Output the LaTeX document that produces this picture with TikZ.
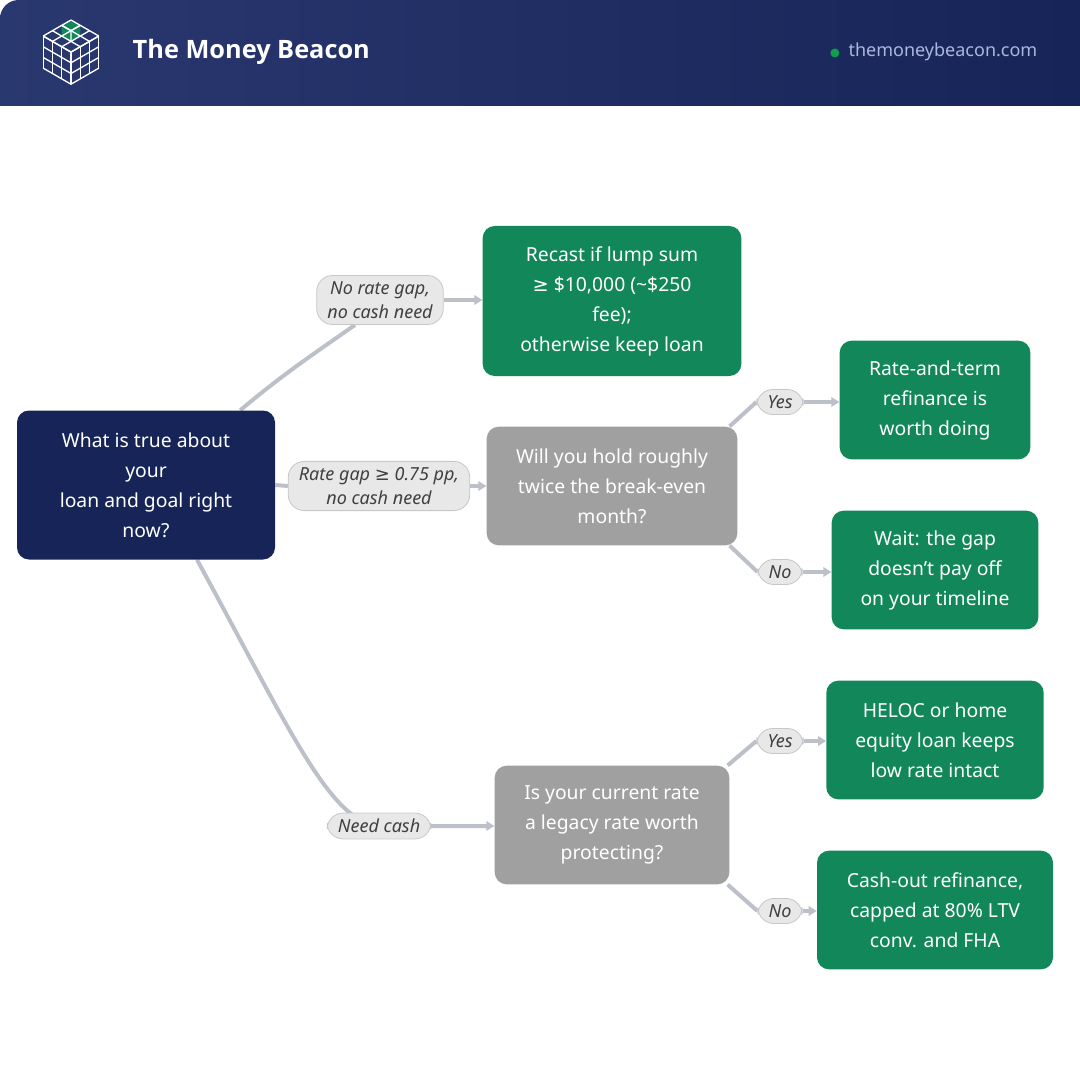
\documentclass[tikz,border=0pt]{standalone}
\usepackage{fontspec}
\setmainfont{Noto Sans}
\newfontfamily\headfont{Open Sans}
\newfontfamily\symfont{DejaVu Sans}
\newcommand{\gtreq}{{\symfont ≥}}
\usetikzlibrary{positioning,arrows.meta,backgrounds,calc}
\definecolor{navy}{HTML}{172457}
\definecolor{dusk}{HTML}{2A3870}
\definecolor{leaf}{HTML}{12875A}
\definecolor{stone}{HTML}{A0A0A0}
\definecolor{wire}{HTML}{BCC0C8}
\definecolor{pill}{HTML}{E8E8E8}
\definecolor{url}{HTML}{A9B8E0}
\tikzset{
  box/.style={rounded corners=9pt, text=white, align=center, inner sep=0pt,
    font=\fontsize{14.5}{22.5}\selectfont},
  ask/.style={box, fill=navy},
  check/.style={box, fill=stone},
  outcome/.style={box, fill=leaf},
  tag/.style={rounded corners=12pt, fill=pill, draw=black!22, line width=0.6pt,
    text=black!75, align=center, inner xsep=8pt, inner ysep=4.5pt,
    font=\fontsize{13.5}{18}\itshape\selectfont},
  edge/.style={draw=wire, line width=3pt},
  arrow/.style={edge, -{Triangle[length=6pt,width=7pt]}}
}
\begin{document}
\begin{tikzpicture}[x=0.75pt, y=-0.75pt]
\useasboundingbox (0,0) rectangle (1080,1080);
% header
\shade[left color=dusk, right color=navy]
  (1080,106) -- (0,106) [rounded corners=14pt] -- (0,0) [sharp corners] -- (1080,0) -- cycle;
\begin{scope}[white, line width=1pt, line join=round]
  \def\ux{9.27}\def\uy{5.35}\def\wz{10.7}
  \fill[leaf] (71,20) -- ++(\ux,\uy) -- ++(0,\wz) -- ++(-\ux,\uy) -- ++(-\ux,-\uy) -- ++(0,-\wz) -- cycle;
  \foreach \i in {0,...,3} {
    \draw (71+\i*\ux,20+\i*\uy) -- ++(-3*\ux,3*\uy);
    \draw (71-\i*\ux,20+\i*\uy) -- ++(3*\ux,3*\uy);
    \draw (71-3*\ux+\i*\ux,20+3*\uy+\i*\uy) -- ++(0,3*\wz);
    \draw (71+3*\ux-\i*\ux,20+3*\uy+\i*\uy) -- ++(0,3*\wz);
    \draw (71-3*\ux,20+3*\uy+\i*\wz) -- ++(3*\ux,3*\uy) -- ++(3*\ux,-3*\uy);
  }
  \draw (71,20+\wz) -- ++(-\ux,-\uy) (71,20+\wz) -- ++(\ux,-\uy) (71,20+\wz) -- ++(0,\wz);
\end{scope}
\node[anchor=west, text=white, font=\fontsize{19}{20}\headfont\bfseries\selectfont] (brand) at (128,52) {The Money Beacon};
\node[anchor=east, text=url, font=\fontsize{13.5}{16}\selectfont] (site) at (1042,52) {themoneybeacon.com};
\fill[leaf!80!green] ($(site.west)+(-9,1)$) circle (4.5);

% nodes
\node[ask, minimum width=193.5pt, minimum height=111.75pt] (root) at (146,485)
  {What is true about\\your\\loan and goal right\\now?};
\node[outcome, minimum width=194pt, minimum height=112.5pt] (recast) at (612,301)
  {Recast if lump sum\\\gtreq{} \$10,000 (\textasciitilde\$250\\fee);\\otherwise keep loan};
\node[check, minimum width=188pt, minimum height=89pt] (hold) at (612,486)
  {Will you hold roughly\\twice the break-even\\month?};
\node[outcome, minimum width=143pt, minimum height=89pt] (rateterm) at (935,400)
  {Rate-and-term\\refinance is\\worth doing};
\node[outcome, minimum width=155pt, minimum height=89pt] (wait) at (935,570)
  {Wait: the gap\\doesn't pay off\\on your timeline};
\node[check, minimum width=176pt, minimum height=89pt] (legacy) at (612,825)
  {Is your current rate\\a legacy rate worth\\protecting?};
\node[outcome, minimum width=163pt, minimum height=89pt] (heloc) at (935,740)
  {HELOC or home\\equity loan keeps\\low rate intact};
\node[outcome, minimum width=177pt, minimum height=89pt] (cashout) at (935,910)
  {Cash-out refinance,\\capped at 80\% LTV\\conv. and FHA};

\node[tag] (nogap) at (380,300) {No rate gap,\\no cash need};
\node[tag] (gap) at (379,486) {Rate gap \gtreq{} 0.75 pp,\\no cash need};
\node[tag] (cash) at (379,826) {Need cash};
\node[tag] (yesA) at (780,402) {Yes};
\node[tag] (noA) at (780,572) {No};
\node[tag] (yesB) at (780,741) {Yes};
\node[tag] (noB) at (780,911) {No};

% connectors
\begin{scope}[on background layer]
\draw[edge] ($(root.north east)+(-35,0)$) to[out=40,in=215] ($(nogap.south)+(-25,0)$);
\draw[arrow] (nogap.east) -- (nogap.east -| recast.west);
\draw[edge] (root.east) -- (gap.west);
\draw[arrow] (gap.east) -- (gap.east -| hold.west);
\draw[arrow] ($(root.south)+(51,0)$) .. controls (290,730) and (330,822) .. (cash.center)
  -- (cash.center -| legacy.west);
\draw[edge] ($(hold.north east)+(-8,0)$) -- (yesA.west);
\draw[arrow] (yesA.east) -- (yesA.east -| rateterm.west);
\draw[edge] ($(hold.south east)+(-8,0)$) -- (noA.west);
\draw[arrow] (noA.east) -- (noA.east -| wait.west);
\draw[edge] ($(legacy.north east)+(-2,0)$) -- (yesB.west);
\draw[arrow] (yesB.east) -- (yesB.east -| heloc.west);
\draw[edge] ($(legacy.south east)+(-2,0)$) -- (noB.west);
\draw[arrow] (noB.east) -- (noB.east -| cashout.west);
\end{scope}
\end{tikzpicture}
\end{document}
